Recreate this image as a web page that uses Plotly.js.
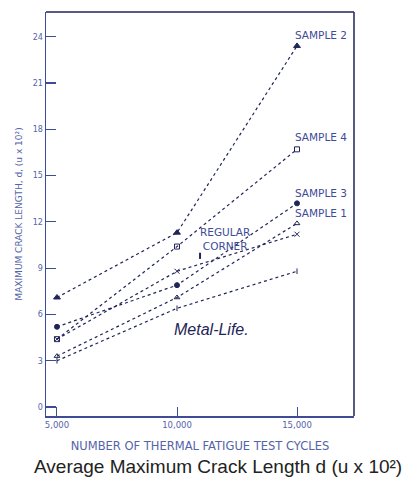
<!DOCTYPE html>
<html>
<head>
<meta charset="utf-8">
<script src="https://cdn.plot.ly/plotly-3.0.1.min.js"></script>
<style>
  html, body { margin: 0; padding: 0; background: #ffffff; }
  #chart { width: 418px; height: 485px; }
</style>
</head>
<body>
<div id="chart"></div>
<script>
// ---- Data ----
const cycles = [5000, 10000, 15000];
const sample2 = [7.1, 11.3, 23.4];
const sample4 = [4.4, 10.4, 16.7];
const sample3 = [5.2, 7.9, 13.2];
const sample1 = [3.3, 7.1, 11.9];
const regularCorner = [4.4, 8.8, 11.2];
const metalLife = [3.0, 6.4, 8.8];

const seriesNames = ["SAMPLE 2", "SAMPLE 4", "SAMPLE 3", "SAMPLE 1", "REGULAR CORNER", "Metal-Life."];
const yTickVals = [0, 3, 6, 9, 12, 15, 18, 21, 24];
const yTickText = ["0", "3", "6", "9", "12", "15", "18", "21", "24"];
const xTickVals = [5000, 10000, 15000];
const xTickText = ["5,000", "10,000", "15,000"];

const ink = "#1f2558";
const blue = "#3d4b98";
const light = "#5563a8";
const font = "DejaVu Sans, sans-serif";

function series(name, y, symbol, size) {
  return {
    x: cycles, y: y, name: name, type: "scatter", mode: "lines+markers",
    line: { color: ink, width: 1.2, dash: "dot" },
    marker: { symbol: symbol, size: size, color: ink, line: { color: ink, width: 1 } },
    showlegend: false, hoverinfo: "x+y+name"
  };
}

const data = [
  series(seriesNames[0], sample2, "triangle-up", 6),
  series(seriesNames[1], sample4, "square-open", 5),
  series(seriesNames[2], sample3, "circle", 5),
  series(seriesNames[3], sample1, "triangle-up-open", 5),
  series(seriesNames[4], regularCorner, "x-thin-open", 5),
  series(seriesNames[5], metalLife, "line-ns-open", 4)
];

function label(text, x, y, size, anchor) {
  return { text: text, x: x, y: y, xref: "x", yref: "y", showarrow: false,
    xanchor: anchor || "left", yanchor: "middle", align: "center",
    font: { family: font, size: size || 10.5, color: blue } };
}

const layout = {
  width: 418, height: 485,
  margin: { l: 46, r: 64, t: 12, b: 69 },
  paper_bgcolor: "#ffffff", plot_bgcolor: "#ffffff",
  showlegend: false,
  xaxis: {
    range: [4542, 17375], tickvals: xTickVals, ticktext: xTickText,
    ticks: "inside", ticklen: 9, tickcolor: blue, tickwidth: 1,
    showline: true, linecolor: blue, linewidth: 1.5, mirror: false,
    showgrid: false, zeroline: false,
    tickfont: { family: font, size: 8.5, color: light },
    title: { text: "NUMBER OF THERMAL FATIGUE TEST CYCLES", standoff: 13,
      font: { family: font, size: 11.5, color: light } }
  },
  yaxis: {
    range: [-0.58, 25.6], tickvals: yTickVals, ticktext: yTickText,
    ticks: "inside", ticklen: 10, tickcolor: blue, tickwidth: 1.2,
    showline: true, linecolor: blue, linewidth: 1.5,
    showgrid: false, zeroline: false,
    tickfont: { family: font, size: 8, color: light },
    title: { text: "MAXIMUM CRACK LENGTH, d, (u x 10²)", standoff: 8,
      font: { family: font, size: 9, color: light } }
  },
  shapes: [
    { type: "line", xref: "paper", yref: "paper", x0: 0, x1: 1, y0: 1, y1: 1,
      line: { color: ink, width: 1.5 } },
    { type: "line", xref: "paper", yref: "paper", x0: 1, x1: 1, y0: 0, y1: 1,
      line: { color: ink, width: 1.5 } },
    { type: "line", xref: "x", yref: "y", x0: 10960, x1: 10960, y0: 10.0, y1: 9.6,
      line: { color: ink, width: 2 } }
  ],
  annotations: [
    label("SAMPLE 2", 14830, 24.1),
    label("SAMPLE 4", 14830, 17.5),
    label("SAMPLE 3", 14830, 13.9),
    label("SAMPLE 1", 14830, 12.6),
    label("REGULAR<br>CORNER", 12000, 10.9, 10.5, "center"),
    { text: "<i>Metal-Life.</i>", x: 11420, y: 5.0, xref: "x", yref: "y", showarrow: false,
      xanchor: "center", yanchor: "middle",
      font: { family: "Liberation Sans, Arial, sans-serif", size: 16, color: ink } },
    { text: "Average Maximum Crack Length d (u x 10²)", x: 0.56, y: -0.126,
      xref: "paper", yref: "paper", showarrow: false, xanchor: "center", yanchor: "middle",
      font: { family: "Liberation Sans, Arial, sans-serif", size: 19, color: "#222222" } }
  ]
};

Plotly.newPlot("chart", data, layout, { displayModeBar: false, staticPlot: true });
</script>
</body>
</html>
